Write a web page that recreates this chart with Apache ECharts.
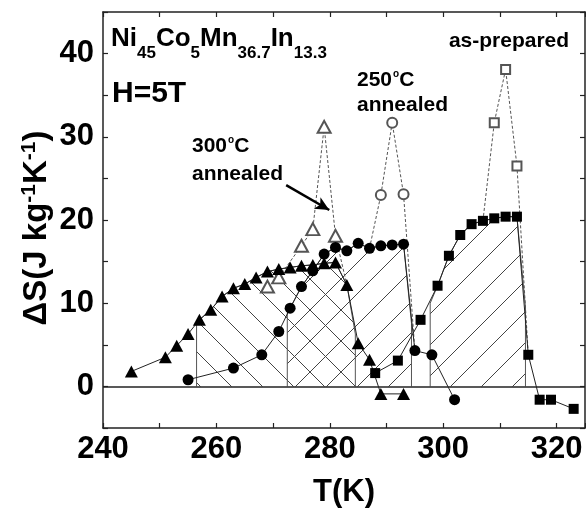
<!DOCTYPE html>
<html>
<head>
<meta charset="utf-8">
<script src="https://cdn.jsdelivr.net/npm/echarts@6/dist/echarts.min.js"></script>
<style>
html, body { margin: 0; padding: 0; background: #fff; }
#chart { width: 586px; height: 508px; }
</style>
</head>
<body>
<div id="chart"></div>
<script>
// 300°C annealed, filled triangles
const triT = [245, 251, 253, 255, 257, 259, 261, 263, 265, 267, 269, 271, 273, 275, 277, 279, 281, 283, 285, 287, 289, 293]
const triS = [1.8, 3.5, 4.9, 6.3, 8.0, 9.2, 10.8, 11.8, 12.3, 13.1, 13.8, 14.1, 14.3, 14.5, 14.6, 14.8, 14.9, 12.2, 5.2, 3.2, -0.9, -0.9]
// 250°C annealed, filled circles
const circT = [255, 263, 268, 271, 273, 275, 277, 279, 281, 283, 285, 287, 289, 291, 293, 295, 298, 302]
const circS = [0.8, 2.2, 3.8, 6.6, 9.4, 12.0, 13.9, 15.9, 16.7, 16.3, 17.2, 16.6, 16.9, 17.0, 17.1, 4.3, 3.8, -1.6]
// as-prepared, filled squares
const sqT = [288, 292, 296, 299, 301, 303, 305, 307, 309, 311, 313, 315, 317, 319, 323]
const sqS = [1.6, 3.1, 8.0, 12.1, 15.7, 18.2, 19.5, 19.9, 20.2, 20.4, 20.4, 3.8, -1.6, -1.6, -2.7]

// dashed peaks (open markers; 0 = joins the filled curve, no marker)
const triDashT = [269, 271, 275, 277, 279, 281, 283]
const triDashS = [12.0, 13.1, 16.9, 18.9, 31.2, 18.1, 12.2]
const triDashOpen = [1, 1, 1, 1, 1, 1, 0]
const circDashT = [287, 289, 291, 293, 295]
const circDashS = [16.6, 23.0, 31.7, 23.1, 4.3]
const circDashOpen = [0, 1, 1, 1, 0]
const sqDashT = [307, 309, 311, 313, 315]
const sqDashS = [19.9, 31.7, 38.1, 26.5, 3.8]
const sqDashOpen = [0, 1, 1, 1, 0]

// hatched regions (outline)
const triHatchT = [256.5, 256.5, 257, 259, 261, 263, 265, 267, 269, 271, 273, 275, 277, 279, 281, 283, 284.5, 284.5]
const triHatchS = [0, 7.4, 8.0, 9.2, 10.8, 11.8, 12.3, 13.1, 13.8, 14.1, 14.3, 14.5, 14.6, 14.8, 14.9, 12.2, 6.3, 0]
const circHatchT = [272.5, 272.5, 273, 275, 277, 279, 281, 283, 285, 287, 289, 291, 293, 294.4, 294.4]
const circHatchS = [0, 8.8, 9.4, 12.0, 13.9, 15.9, 16.7, 16.3, 17.2, 16.6, 16.9, 17.0, 17.1, 7.6, 0]
const sqHatchT = [297.7, 297.7, 299, 301, 303, 305, 307, 309, 311, 313, 314.5, 314.5]
const sqHatchS = [0, 10.0, 12.1, 15.7, 18.2, 19.5, 19.9, 20.2, 20.4, 20.4, 9.5, 0]

const xTicks = [240, 260, 280, 300, 320]
const yTicks = [0, 10, 20, 30, 40]
const arrowFrom = [272.3, 24.2]
const arrowTo = [279.9, 21.2]

const font = 'Liberation Sans'
const pts = (xs, ys) => xs.map((x, i) => [x, ys[i]])
const dashPts = (xs, ys, open, sym) => xs.map((x, i) => ({ value: [x, ys[i]], symbol: open[i] ? sym : 'none' }))

function hatch(dir) {
  const s = 31
  const c = document.createElement('canvas')
  c.width = s; c.height = s
  const g = c.getContext('2d')
  g.strokeStyle = '#444'
  g.lineWidth = 1
  g.beginPath()
  if (dir === '/') {
    g.moveTo(-3, s + 3); g.lineTo(s + 3, -3)
    g.moveTo(-3, 3); g.lineTo(3, -3)
    g.moveTo(s - 3, s + 3); g.lineTo(s + 3, s - 3)
  } else {
    g.moveTo(-3, -3); g.lineTo(s + 3, s + 3)
    g.moveTo(s - 3, -3); g.lineTo(s + 3, 3)
    g.moveTo(-3, s - 3); g.lineTo(3, s + 3)
  }
  g.stroke()
  return { image: c, repeat: 'repeat' }
}

const hatchSeries = (xs, ys, dir) => ({
  type: 'line', data: pts(xs, ys), symbol: 'none', silent: true, z: 1,
  lineStyle: { color: '#555', width: 1 },
  areaStyle: { color: hatch(dir), opacity: 1 }
})

const axisBase = {
  type: 'value', splitLine: { show: false },
  axisLine: { show: true, onZero: false, lineStyle: { color: '#222', width: 1.5 } },
  axisTick: { show: true, inside: true, length: 5, lineStyle: { color: '#222', width: 1.2 } }
}
const bold = { fontFamily: font, fontWeight: 'bold', color: '#000' }
const richB = (size) => ({ fontFamily: font, fontWeight: 'bold', fontSize: size, fill: '#000' })

const chart = echarts.init(document.getElementById('chart'))
chart.setOption({
  animation: false,
  backgroundColor: '#fff',
  grid: { left: 103, right: 1, top: 12, bottom: 80, outerBoundsMode: 'none' },
  xAxis: [
    { ...axisBase, position: 'bottom', min: 240, max: 325, interval: 10,
      axisLabel: { ...bold, fontSize: 31, margin: 6, formatter: v => xTicks.includes(Math.round(v)) ? String(Math.round(v)) : '' },
      name: 'T(K)', nameLocation: 'middle', nameGap: 49, nameTextStyle: { ...bold, fontSize: 31 } },
    { ...axisBase, position: 'top', min: 240, max: 325, interval: 10, axisLabel: { show: false } }
  ],
  yAxis: [
    { ...axisBase, position: 'left', min: -5, max: 45, interval: 5,
      axisLabel: { ...bold, fontSize: 31, margin: 9, formatter: v => yTicks.includes(Math.round(v)) ? String(Math.round(v)) : '' } },
    { ...axisBase, position: 'right', min: -5, max: 45, interval: 5, axisLabel: { show: false } }
  ],
  graphic: [
    { type: 'text', x: 37, y: 228, rotation: Math.PI / 2, style: {
      text: '{m|ΔS(J kg}{s|-1}{m|K}{s|-1}{m|)}', align: 'center', verticalAlign: 'middle',
      rich: { m: richB(33), s: { ...richB(21), padding: [0, 0, 15, 0] } } } },
    { type: 'text', x: 111, y: 15, style: { text: '{m|Ni}{s|45}{m|Co}{s|5}{m|Mn}{s|36.7}{m|In}{s|13.3}', rich: {
      m: richB(26), s: { ...richB(17), padding: [30, 0, 0, 0] } } } },
    { type: 'text', x: 112, y: 94, style: { text: 'H=5T', font: 'bold 30px ' + font, fill: '#000', verticalAlign: 'middle' } },
    { type: 'text', x: 509, y: 41, style: { text: 'as-prepared', font: 'bold 21px ' + font, fill: '#000', align: 'center', verticalAlign: 'middle' } },
    { type: 'text', x: 357, y: 69, style: { text: '{m|250}{o|o}{m|C}', rich: {
      m: richB(21), o: { ...richB(10), padding: [0, 0, 12, 1] } } } },
    { type: 'text', x: 357, y: 105, style: { text: 'annealed', font: 'bold 21px ' + font, fill: '#000', verticalAlign: 'middle' } },
    { type: 'text', x: 192, y: 135, style: { text: '{m|300}{o|o}{m|C}', rich: {
      m: richB(21), o: { ...richB(10), padding: [0, 0, 12, 1] } } } },
    { type: 'text', x: 192, y: 174, style: { text: 'annealed', font: 'bold 21px ' + font, fill: '#000', verticalAlign: 'middle' } }
  ],
  series: [
    hatchSeries(triHatchT, triHatchS, '\\'),
    hatchSeries(circHatchT, circHatchS, '/'),
    hatchSeries(sqHatchT, sqHatchS, '/'),
    { type: 'line', data: dashPts(triDashT, triDashS, triDashOpen, 'emptyTriangle'), symbolSize: [13, 12], z: 3,
      itemStyle: { color: '#555', borderWidth: 1 }, lineStyle: { color: '#555', width: 1, type: [3, 2] },
      markLine: { silent: true, symbol: ['none', 'arrow'], symbolSize: [10, 14], label: { show: false },
        lineStyle: { color: '#000', width: 2.5, type: 'solid' },
        data: [[{ coord: arrowFrom }, { coord: arrowTo }]] } },
    { type: 'line', data: dashPts(circDashT, circDashS, circDashOpen, 'emptyCircle'), symbolSize: 10, z: 3,
      itemStyle: { color: '#555', borderWidth: 1 }, lineStyle: { color: '#555', width: 1, type: [3, 2] } },
    { type: 'line', data: dashPts(sqDashT, sqDashS, sqDashOpen, 'emptyRect'), symbolSize: 9, z: 3,
      itemStyle: { color: '#555', borderWidth: 1 }, lineStyle: { color: '#555', width: 1, type: [3, 2] } },
    { type: 'line', data: pts(triT, triS), symbol: 'triangle', symbolSize: [13, 12], z: 5,
      itemStyle: { color: '#000' }, lineStyle: { color: '#222', width: 1 },
      markLine: { silent: true, symbol: 'none', label: { show: false },
        lineStyle: { color: '#222', width: 1.5, type: 'solid' }, data: [{ yAxis: 0 }] } },
    { type: 'line', data: pts(circT, circS), symbol: 'circle', symbolSize: 11, z: 5,
      itemStyle: { color: '#000' }, lineStyle: { color: '#222', width: 1 } },
    { type: 'line', data: pts(sqT, sqS), symbol: 'rect', symbolSize: 10, z: 5,
      itemStyle: { color: '#000' }, lineStyle: { color: '#222', width: 1 } }
  ]
})
</script>
</body>
</html>
